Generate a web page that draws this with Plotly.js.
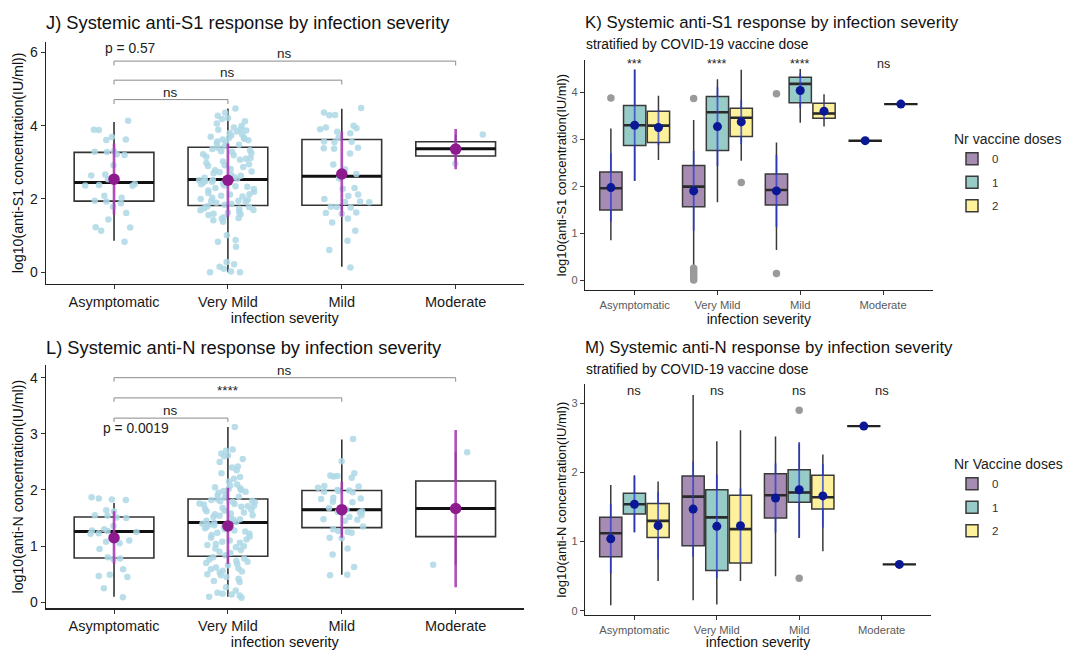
<!DOCTYPE html>
<html><head><meta charset="utf-8">
<script src="https://cdn.plot.ly/plotly-3.0.1.min.js"></script>
<style>body{margin:0;background:#fff}#chart{width:1078px;height:650px}</style>
</head><body><div id="chart"></div>
<script>
// ---------- categories ----------
const severity = ['Asymptomatic', 'Very Mild', 'Mild', 'Moderate'];
const doses = ['0', '1', '2'];
const moderateDoses = ['1', '2'];

// ---------- Panel J: anti-S1 by severity ----------
const jQ1 = [1.94, 1.82, 1.83, 3.17];
const jMedian = [2.45, 2.53, 2.62, 3.37];
const jQ3 = [3.27, 3.41, 3.62, 3.56];
const jLower = [0.86, 0.0, 0.15, 2.97];
const jUpper = [4.10, 4.47, 4.46, 3.75];
const jMean = [2.54, 2.51, 2.68, 3.36];
const jSD = [0.97, 1.00, 1.16, 0.55];
const jPointsAsym = [4.13, 3.89, 3.88, 3.69, 3.62, 3.61, 3.30, 3.29, 3.28, 3.22, 3.20, 2.92, 2.67, 2.64, 2.54, 2.41, 2.38, 2.37, 2.36, 2.09, 2.03, 1.95, 1.93, 1.88, 1.79, 1.62, 1.44, 1.23, 1.22, 1.13, 0.83];
const jPointsVeryMild = [0.0, 0.0, 0.02, 0.1, 0.15, 0.22, 0.28, 0.7, 0.83, 0.88, 1.01, 1.38, 1.42, 1.46, 1.48, 1.5, 1.56, 1.58, 1.6, 1.63, 1.65, 1.69, 1.7, 1.73, 1.75, 1.78, 1.8,
  1.84, 1.86, 1.9, 1.92, 1.94, 1.95, 1.98, 2.0, 2.03, 2.07, 2.09, 2.12, 2.13, 2.16, 2.2, 2.23, 2.27, 2.3, 2.33, 2.35, 2.37, 2.4, 2.42, 2.45, 2.47, 2.49, 2.51, 2.52,
  2.55, 2.58, 2.6, 2.63, 2.66, 2.7, 2.73, 2.75, 2.78, 2.82, 2.87, 2.9, 2.92, 2.95, 2.98, 3.02, 3.07, 3.1, 3.12, 3.15, 3.19, 3.22, 3.25, 3.29, 3.3, 3.33, 3.36, 3.39,
  3.44, 3.48, 3.52, 3.55, 3.57, 3.6, 3.62, 3.64, 3.66, 3.67, 3.7, 3.73, 3.76, 3.8, 3.84, 3.87, 3.89, 3.91, 3.95, 4.0, 4.06, 4.12, 4.18, 4.21, 4.27, 4.35, 4.47];
const jPointsMild = [4.48, 4.36, 4.29, 4.28, 4.0, 3.95, 3.93, 3.90, 3.83, 3.79, 3.67, 3.57, 3.56, 3.55, 3.40, 3.38, 3.37, 3.24, 2.94, 2.81, 2.68, 2.56, 2.30, 2.28, 2.12, 2.08, 2.0, 1.93, 1.92, 1.91, 1.79, 1.78, 1.77, 1.63, 1.62, 1.60, 1.47, 1.36, 1.13, 0.86, 0.61, 0.13];
const jPointsModerate = [3.76, 2.97];
const jCompareTo = ['Very Mild', 'Mild', 'Moderate'];
const jCompareLabel = ['ns', 'ns', 'ns'];
const jCompareY = [4.71, 5.24, 5.76];
const jPText = 'p = 0.57';

// ---------- Panel L: anti-N by severity ----------
const lQ1 = [0.79, 0.82, 1.33, 1.17];
const lMedian = [1.26, 1.42, 1.65, 1.67];
const lQ3 = [1.52, 1.84, 1.99, 2.16];
const lLower = [0.10, 0.10, 0.49, 0.67];
const lUpper = [1.77, 3.12, 2.90, 2.67];
const lMean = [1.15, 1.36, 1.65, 1.67];
const lSD = [0.47, 0.68, 0.50, 1.40];
const lPointsAsym = [1.85, 1.83, 1.82, 1.87, 1.64, 1.62, 1.55, 1.54, 1.51, 1.50, 1.36, 1.30, 1.28, 1.27, 1.25, 1.23, 1.22, 1.10, 1.08, 1.05, 0.95, 0.80, 0.78, 0.77, 0.59, 0.49, 0.47, 0.45, 0.25, 0.09];
const lPointsVeryMild = [0.08, 0.10, 0.12, 0.14, 0.15, 0.17, 0.21, 0.27, 0.36, 0.38, 0.42, 0.45, 0.48, 0.5, 0.53, 0.55, 0.56, 0.59, 0.6, 0.62, 0.66, 0.68, 0.7, 0.72, 0.74, 0.76, 0.78, 0.8,
  0.84, 0.88, 0.9, 0.93, 0.96, 0.98, 1.0, 1.02, 1.04, 1.06, 1.08, 1.1, 1.12, 1.15, 1.17, 1.2, 1.22, 1.24, 1.26, 1.28, 1.3, 1.32, 1.34, 1.35, 1.37, 1.38, 1.4, 1.41,
  1.43, 1.45, 1.47, 1.48, 1.5, 1.52, 1.54, 1.55, 1.57, 1.58, 1.6, 1.62, 1.63, 1.65, 1.66, 1.68, 1.7, 1.71, 1.72, 1.74, 1.75, 1.76, 1.78, 1.79, 1.8, 1.81, 1.82, 1.83,
  1.86, 1.88, 1.9, 1.92, 1.95, 1.97, 1.98, 2.0, 2.02, 2.03, 2.05, 2.08, 2.1, 2.15, 2.2, 2.23, 2.3, 2.35, 2.4, 2.42, 2.5, 2.55, 2.6, 2.62, 2.65, 2.7, 2.72, 3.12];
const lPointsMild = [2.91, 2.51, 2.30, 2.26, 2.25, 2.24, 2.22, 2.07, 2.06, 2.04, 2.0, 1.99, 1.98, 1.97, 1.96, 1.86, 1.85, 1.84, 1.79, 1.78, 1.68, 1.65, 1.62, 1.61, 1.60, 1.59, 1.55, 1.52, 1.48, 1.47, 1.45, 1.35, 1.30, 1.27, 1.25, 1.24, 1.15, 1.14, 0.96, 0.85, 0.63, 0.49, 0.48];
const lPointsModerate = [2.67, 0.67];
const lCompareTo = ['Very Mild', 'Mild', 'Moderate'];
const lCompareLabel = ['ns', '****', 'ns'];
const lCompareY = [3.28, 3.64, 4.00];
const lPText = 'p = 0.0019';

// ---------- Panel K: anti-S1 by severity and dose (rows = dose 0,1,2; cols = Asymptomatic, Very Mild, Mild) ----------
const kQ1 = [[1.49, 1.56, 1.60], [2.87, 2.76, 3.78], [2.93, 3.06, 3.45]];
const kMedian = [[1.955, 1.99, 1.92], [3.30, 3.575, 4.18], [3.29, 3.46, 3.55]];
const kQ3 = [[2.30, 2.44, 2.26], [3.72, 3.91, 4.32], [3.60, 3.66, 3.77]];
const kLower = [[0.85, 0.28, 0.64], [2.11, 1.66, 3.35], [2.56, 2.54, 3.27]];
const kUpper = [[3.23, 3.41, 2.93], [4.49, 4.28, 4.50], [3.93, 4.48, 3.96]];
const kMean = [[1.97, 1.90, 1.90], [3.30, 3.27, 4.04], [3.25, 3.37, 3.60]];
const kSD = [[0.73, 0.85, 0.77], [1.18, 0.84, 0.37], [0.37, 0.47, 0.18]];
const kOutlierCat = [['Asymptomatic', 'Very Mild', 'Very Mild', 'Very Mild', 'Very Mild', 'Very Mild', 'Very Mild', 'Very Mild', 'Mild', 'Mild'], [], ['Very Mild']];
const kOutlierVal = [[3.88, 3.87, 0.25, 0.20, 0.15, 0.10, 0.05, 0.0, 3.97, 0.14], [], [2.08]];
const kModerate = [2.97, 3.75];
const kSignif = ['***', '****', '****', 'ns'];

// ---------- Panel M: anti-N by severity and dose ----------
const mQ1 = [[0.78, 0.94, 1.34], [1.40, 0.58, 1.57], [1.06, 0.69, 1.47]];
const mMedian = [[1.12, 1.65, 1.67], [1.54, 1.35, 1.71], [1.30, 1.18, 1.64]];
const mQ3 = [[1.35, 1.95, 1.98], [1.70, 1.75, 2.04], [1.55, 1.67, 1.96]];
const mLower = [[0.08, 0.15, 0.50], [1.14, 0.09, 1.05], [0.43, 0.43, 0.86]];
const mUpper = [[1.82, 3.12, 2.52], [1.96, 2.45, 2.42], [1.87, 2.61, 2.26]];
const mMean = [[1.04, 1.47, 1.63], [1.54, 1.22, 1.75], [1.23, 1.23, 1.66]];
const mSD = [[0.50, 0.69, 0.50], [0.41, 0.75, 0.69], [0.49, 0.54, 0.46]];
const mOutlierCat = [[], ['Mild', 'Mild'], []];
const mOutlierVal = [[], [2.90, 0.47], []];
const mModerate = [2.67, 0.67];
const mSignif = ['ns', 'ns', 'ns', 'ns'];

// ---------- styles ----------
const FONT = 'Liberation Sans, Arial, sans-serif';
const doseFill = ['rgba(150,120,165,0.85)', 'rgba(125,190,185,0.8)', 'rgba(253,238,130,0.8)'];
const jitterColor = '#add8e6';
const meanPurple = '#8e1b8e';
const sdPurple = 'rgba(165,55,175,0.88)';
const meanBlue = '#0a1896';
const sdBlue = 'rgba(40,55,210,0.75)';

const traces = [];

function summaryPanel(xa, ya, grp, q1, med, q3, lo, hi, mean, sd, pointGroups) {
  traces.push({type: 'box', xaxis: xa, yaxis: ya, x: severity, q1: q1, median: med, q3: q3,
    lowerfence: lo, upperfence: hi, width: 0.7, whiskerwidth: 0, boxpoints: false,
    fillcolor: 'white', line: {color: '#333', width: 1.6}, showlegend: false, hoverinfo: 'skip',
    alignmentgroup: grp, offsetgroup: grp});
  traces.push({type: 'box', xaxis: xa, yaxis: ya, x: severity, q1: med, median: med, q3: med,
    lowerfence: med, upperfence: med, width: 0.7, whiskerwidth: 0, boxpoints: false,
    fillcolor: 'rgba(0,0,0,0)', line: {color: '#111', width: 3}, showlegend: false, hoverinfo: 'skip',
    alignmentgroup: grp, offsetgroup: grp});
  const px = [], py = [];
  pointGroups.forEach((vals, i) => vals.forEach(v => { px.push(severity[i]); py.push(v); }));
  traces.push({type: 'box', xaxis: xa, yaxis: ya, x: px, y: py, boxpoints: 'all', jitter: 1, pointpos: 0,
    width: 0.52, whiskerwidth: 0, fillcolor: 'rgba(0,0,0,0)', line: {color: 'rgba(0,0,0,0)', width: 0},
    marker: {color: jitterColor, size: 6.5, opacity: 0.85}, showlegend: false, hoverinfo: 'skip',
    alignmentgroup: grp, offsetgroup: grp});
  traces.push({type: 'scatter', mode: 'markers', xaxis: xa, yaxis: ya, x: severity, y: mean,
    orientation: 'v', alignmentgroup: grp, offsetgroup: grp,
    error_y: {type: 'data', array: sd, visible: true, color: sdPurple, thickness: 2.6, width: 0},
    marker: {color: meanPurple, size: 11.5}, showlegend: false, hoverinfo: 'skip'});
}

function dosePanel(xa, ya, grp, legendId, q1, med, q3, lo, hi, mean, sd, outCat, outVal, moderateVals) {
  const cats = severity.slice(0, 3);
  doses.forEach((d, i) => {
    traces.push({type: 'box', xaxis: xa, yaxis: ya, x: cats, q1: q1[i], median: med[i], q3: q3[i],
      lowerfence: lo[i], upperfence: hi[i], whiskerwidth: 0, boxpoints: false,
      fillcolor: doseFill[i], line: {color: '#3a3a3a', width: 1.5}, name: d, legend: legendId,
      legendgroup: grp + d, showlegend: true, hoverinfo: 'skip', alignmentgroup: grp, offsetgroup: grp + d});
    traces.push({type: 'box', xaxis: xa, yaxis: ya, x: cats, q1: med[i], median: med[i], q3: med[i],
      lowerfence: med[i], upperfence: med[i], whiskerwidth: 0, boxpoints: false,
      fillcolor: 'rgba(0,0,0,0)', line: {color: '#2a2a2a', width: 2.6}, showlegend: false,
      hoverinfo: 'skip', alignmentgroup: grp, offsetgroup: grp + d});
    traces.push({type: 'scatter', mode: 'markers', xaxis: xa, yaxis: ya, x: outCat[i], y: outVal[i],
      orientation: 'v', alignmentgroup: grp, offsetgroup: grp + d,
      marker: {color: '#9a9a9a', size: 7.5}, showlegend: false, hoverinfo: 'skip'});
    traces.push({type: 'scatter', mode: 'markers', xaxis: xa, yaxis: ya, x: cats, y: mean[i],
      orientation: 'v', alignmentgroup: grp, offsetgroup: grp + d,
      error_y: {type: 'data', array: sd[i], visible: true, color: sdBlue, thickness: 1.8, width: 0},
      marker: {color: meanBlue, size: 9}, showlegend: false, hoverinfo: 'skip'});
  });
  moderateVals.forEach((v, i) => {
    const og = grp + 'mod' + moderateDoses[i];
    traces.push({type: 'box', xaxis: xa, yaxis: ya, x: [severity[3]], q1: [v], median: [v], q3: [v],
      lowerfence: [v], upperfence: [v], whiskerwidth: 0, boxpoints: false,
      fillcolor: 'rgba(0,0,0,0)', line: {color: '#222', width: 2.4}, showlegend: false,
      hoverinfo: 'skip', alignmentgroup: grp + 'mod', offsetgroup: og});
    traces.push({type: 'scatter', mode: 'markers', xaxis: xa, yaxis: ya, x: [severity[3]], y: [v],
      orientation: 'v', alignmentgroup: grp + 'mod', offsetgroup: og,
      marker: {color: meanBlue, size: 9}, showlegend: false, hoverinfo: 'skip'});
  });
}

summaryPanel('x', 'y', 'j', jQ1, jMedian, jQ3, jLower, jUpper, jMean, jSD,
  [jPointsAsym, jPointsVeryMild, jPointsMild, jPointsModerate]);
dosePanel('x2', 'y2', 'k', 'legend', kQ1, kMedian, kQ3, kLower, kUpper, kMean, kSD, kOutlierCat, kOutlierVal, kModerate);
summaryPanel('x3', 'y3', 'l', lQ1, lMedian, lQ3, lLower, lUpper, lMean, lSD,
  [lPointsAsym, lPointsVeryMild, lPointsMild, lPointsModerate]);
dosePanel('x4', 'y4', 'm', 'legend2', mQ1, mMedian, mQ3, mLower, mUpper, mMean, mSD, mOutlierCat, mOutlierVal, mModerate);

// ---------- axes ----------
function xAxis(domain, anchor, big) {
  return {domain: domain, anchor: anchor, type: 'category', categoryorder: 'array', categoryarray: severity,
    range: [-0.6, 3.6], showgrid: false, zeroline: false, showline: true, linecolor: '#222', linewidth: 1.2,
    ticks: 'outside', ticklen: 4, tickcolor: '#333', tickwidth: 1,
    tickfont: {family: FONT, size: big ? 14.5 : 11.2, color: big ? '#1a1a1a' : '#5a5a5a'},
    title: {text: 'infection severity', font: {family: FONT, size: big ? 14.5 : 14, color: '#111'}, standoff: big ? 4 : 2}};
}
function yAxis(domain, anchor, range, tickvals, title, big) {
  return {domain: domain, anchor: anchor, range: range, tickvals: tickvals, showgrid: false, zeroline: false,
    showline: true, linecolor: '#222', linewidth: 1.2, ticks: 'outside', ticklen: 4, tickcolor: '#333',
    tickfont: {family: FONT, size: big ? 14 : 11, color: big ? '#1a1a1a' : '#5a5a5a'},
    title: {text: title, font: {family: FONT, size: big ? 14.2 : 13, color: '#111'}, standoff: big ? 3 : 2}};
}

const W = 1078, H = 650;
const annotations = [];
const shapes = [];

function addTitle(text, xpx, ypx, size) {
  annotations.push({text: text, xref: 'paper', yref: 'paper', x: xpx / W, y: 1 - ypx / H,
    xanchor: 'left', yanchor: 'middle', showarrow: false, font: {family: FONT, size: size, color: '#111'}});
}
addTitle('J) Systemic anti-S1 response by infection severity', 44, 23, 18.3);
addTitle('L) Systemic anti-N response by infection severity', 44, 347, 18.3);
addTitle('K) Systemic anti-S1 response by infection severity', 583, 22, 16.8);
addTitle('stratified by COVID-19 vaccine dose', 584, 44, 13.8);
addTitle('M) Systemic anti-N response by infection severity', 583, 347, 16.8);
addTitle('stratified by COVID-19 vaccine dose', 584, 369, 13.8);

function addBrackets(xa, ya, toCats, labels, levels, tip) {
  toCats.forEach((c, i) => {
    const x0 = 0, x1 = severity.indexOf(c), y = levels[i];
    const line = {color: '#8a8a8a', width: 1};
    shapes.push({type: 'line', xref: xa, yref: ya, x0: x0, x1: x1, y0: y, y1: y, line: line});
    shapes.push({type: 'line', xref: xa, yref: ya, x0: x0, x1: x0, y0: y, y1: y - tip, line: line});
    shapes.push({type: 'line', xref: xa, yref: ya, x0: x1, x1: x1, y0: y, y1: y - tip, line: line});
    annotations.push({text: labels[i], xref: xa, yref: ya, x: (x0 + x1) / 2, y: y, xanchor: 'center',
      yanchor: 'bottom', yshift: -2, showarrow: false, font: {family: FONT, size: 13.5, color: '#222'}});
  });
}
addBrackets('x', 'y', jCompareTo, jCompareLabel, jCompareY, 0.12);
addBrackets('x3', 'y3', lCompareTo, lCompareLabel, lCompareY, 0.07);
annotations.push({text: jPText, xref: 'x', yref: 'y', x: 0, y: 6.1, xanchor: 'left', xshift: -11,
  yanchor: 'middle', showarrow: false, font: {family: FONT, size: 13.8, color: '#222'}});
annotations.push({text: lPText, xref: 'x3', yref: 'y3', x: 0, y: 3.09, xanchor: 'left', xshift: -13,
  yanchor: 'middle', showarrow: false, font: {family: FONT, size: 13.8, color: '#222'}});

kSignif.forEach((s, i) => annotations.push({text: s, xref: 'x2', yref: 'y2', x: severity[i], y: 4.6,
  xanchor: 'center', yanchor: 'middle', showarrow: false, font: {family: FONT, size: 12.5, color: '#222'}}));
mSignif.forEach((s, i) => annotations.push({text: s, xref: 'x4', yref: 'y4', x: severity[i], y: 3.19,
  xanchor: 'center', yanchor: 'middle', showarrow: false, font: {family: FONT, size: 13, color: '#222'}}));

const legendStyle = (title, ypx) => ({title: {text: title, font: {family: FONT, size: 14, color: '#222'}},
  x: 952 / W, y: 1 - ypx / H, xanchor: 'left', yanchor: 'top', bgcolor: 'rgba(0,0,0,0)',
  font: {family: FONT, size: 11.5, color: '#333'}, tracegroupgap: 4.5, itemwidth: 30});

const layout = {
  width: W, height: H, margin: {l: 0, r: 0, t: 0, b: 0},
  paper_bgcolor: 'white', plot_bgcolor: 'white', hovermode: false,
  font: {family: FONT},
  boxmode: 'group', boxgap: 0.138, boxgroupgap: 0.063,
  scattermode: 'group', scattergap: 0.138,
  xaxis: xAxis([45.7 / W, 524 / W], 'y', true),
  yaxis: yAxis([1 - 284 / H, 1 - 41.7 / H], 'x', [-0.319, 6.289], [0, 2, 4, 6], 'log10(anti-S1 concentration(IU/ml))', true),
  xaxis2: xAxis([585 / W, 932.7 / W], 'y2', false),
  yaxis2: yAxis([1 - 290 / H, 1 - 60 / H], 'x2', [-0.213, 4.69], [0, 1, 2, 3, 4], 'log10(anti-S1 concentration(IU/ml))', false),
  xaxis3: xAxis([45.7 / W, 524 / W], 'y3', true),
  yaxis3: yAxis([1 - 608.3 / H, 1 - 365 / H], 'x3', [-0.107, 4.226], [0, 1, 2, 3, 4], 'log10(anti-N concentration(IU/ml))', true),
  xaxis4: xAxis([585 / W, 931 / W], 'y4', false),
  yaxis4: yAxis([1 - 615 / H, 1 - 384 / H], 'x4', [-0.062, 3.279], [0, 1, 2, 3], 'log10(anti-N concentration(IU/ml))', false),
  legend: legendStyle('Nr vaccine doses', 126),
  legend2: legendStyle('Nr Vaccine doses', 451),
  annotations: annotations, shapes: shapes
};

Plotly.newPlot('chart', traces, layout, {displayModeBar: false, staticPlot: true});
</script>
</body></html>
